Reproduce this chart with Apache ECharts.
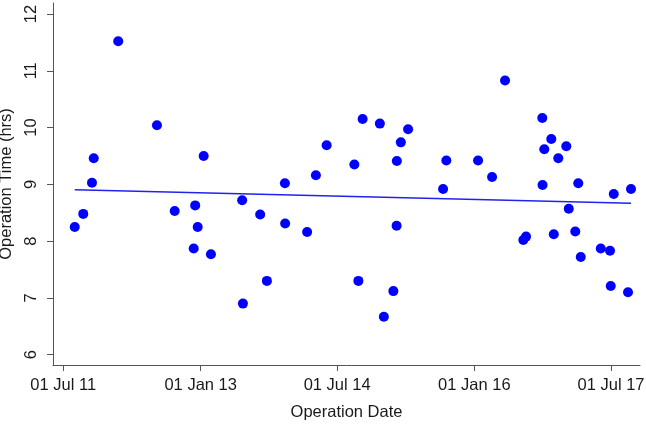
<!DOCTYPE html>
<html>
<head>
<meta charset="utf-8">
<script src="https://cdn.jsdelivr.net/npm/echarts@6/dist/echarts.min.js"></script>
<style>
  html, body { margin: 0; padding: 0; background: #fff; }
  #main { width: 646px; height: 427px; }
</style>
</head>
<body>
<div id="main"></div>
<script>
// operation dates and times (hrs)
var dates = [
  '2011-08-16', '2011-09-19', '2011-10-24', '2011-10-31', '2012-02-06',
  '2012-07-10', '2012-09-19', '2012-12-04', '2012-12-10', '2012-12-20',
  '2013-01-13', '2013-02-11', '2013-06-16', '2013-06-19', '2013-08-27',
  '2013-09-23', '2013-12-04', '2013-12-05', '2014-03-03', '2014-04-07',
  '2014-05-20', '2014-09-08', '2014-09-24', '2014-10-11', '2014-12-19',
  '2015-01-04', '2015-02-11', '2015-02-24', '2015-02-25', '2015-03-13',
  '2015-04-11', '2015-08-29', '2015-09-11', '2016-01-16', '2016-03-12',
  '2016-05-03', '2016-07-15', '2016-07-26', '2016-09-29', '2016-09-30',
  '2016-10-07', '2016-11-04', '2016-11-14', '2016-12-02', '2017-01-03',
  '2017-01-13', '2017-02-08', '2017-02-20', '2017-03-02', '2017-05-21',
  '2017-06-27', '2017-06-30', '2017-07-12', '2017-09-07', '2017-09-19'
];
var hours = [
  8.25, 8.48, 9.03, 9.46, 11.52,
  10.04, 8.53, 7.87, 8.63, 8.25,
  9.50, 7.77, 8.72, 6.90, 8.47,
  7.30, 9.02, 8.31, 8.16, 9.16,
  9.69, 9.35, 7.30, 10.15, 10.07,
  6.67, 7.12, 8.27, 9.41, 9.74,
  9.97, 8.92, 9.42, 9.42, 9.13,
  10.83, 8.02, 8.08, 10.17, 8.99,
  9.62, 9.80, 8.12, 9.46, 9.67,
  8.57, 8.17, 9.02, 7.72, 7.87,
  7.83, 7.21, 8.83, 7.10, 8.92
];

// fitted trend line end points
var trendDates = ['2011-08-16', '2017-09-19'];
var trendHours = [8.906, 8.666];

var xTicks = ['2011-07-01', '2013-01-01', '2014-07-01', '2016-01-01', '2017-07-01'];
var yTicks = [6, 7, 8, 9, 10, 11, 12];

var months = ['Jan','Feb','Mar','Apr','May','Jun','Jul','Aug','Sep','Oct','Nov','Dec'];
function ts(s) {
  var p = s.split('-');
  return Date.UTC(+p[0], +p[1] - 1, +p[2]);
}
function fmtDate(v) {
  var d = new Date(v);
  var dd = ('0' + d.getUTCDate()).slice(-2);
  var yy = ('0' + (d.getUTCFullYear() % 100)).slice(-2);
  return dd + ' ' + months[d.getUTCMonth()] + ' ' + yy;
}

var points = dates.map(function (d, i) { return [ts(d), hours[i]]; });
var trend = trendDates.map(function (d, i) { return [ts(d), trendHours[i]]; });

var font = 'Liberation Sans';
var fontSize = 16.5;
var axisColor = '#555';
var textColor = '#1a1a1a';

var myChart = echarts.init(document.getElementById('main'));
var option = {
  animation: false,
  grid: { left: 53, right: 6, top: 3, bottom: 62, containLabel: false, outerBoundsMode: 'none' },
  xAxis: {
    type: 'value',
    min: ts('2011-05-21'),
    max: ts('2017-10-25'),
    name: 'Operation Date',
    nameLocation: 'middle',
    nameGap: 39,
    nameTextStyle: { fontFamily: font, fontSize: fontSize, color: textColor },
    splitLine: { show: false },
    axisLine: { lineStyle: { color: axisColor, width: 1 } },
    axisTick: { length: 6, lineStyle: { color: axisColor }, customValues: xTicks.map(ts) },
    axisLabel: {
      fontFamily: font, fontSize: fontSize, color: textColor, margin: 12,
      customValues: xTicks.map(ts),
      formatter: function (v) { return fmtDate(v); }
    }
  },
  yAxis: {
    type: 'value',
    min: 5.819,
    max: 12.194,
    name: 'Operation Time (hrs)',
    nameLocation: 'middle',
    nameGap: 35,
    nameRotate: 90,
    nameTextStyle: { fontFamily: font, fontSize: fontSize, color: textColor },
    splitLine: { show: false },
    axisLine: { show: true, lineStyle: { color: axisColor, width: 1 } },
    axisTick: { show: true, length: 6, lineStyle: { color: axisColor }, customValues: yTicks },
    axisLabel: {
      fontFamily: font, fontSize: fontSize, color: textColor, margin: 13, rotate: 90,
      customValues: yTicks,
      formatter: function (v) { return String(Math.round(v)); }
    }
  },
  series: [
    {
      type: 'scatter',
      data: points,
      symbol: 'circle',
      symbolSize: 10,
      itemStyle: { color: '#0000ff', opacity: 1 }
    },
    {
      type: 'line',
      data: trend,
      showSymbol: false,
      lineStyle: { color: '#2222ee', width: 1.5 }
    }
  ]
};
myChart.setOption(option);
</script>
</body>
</html>
